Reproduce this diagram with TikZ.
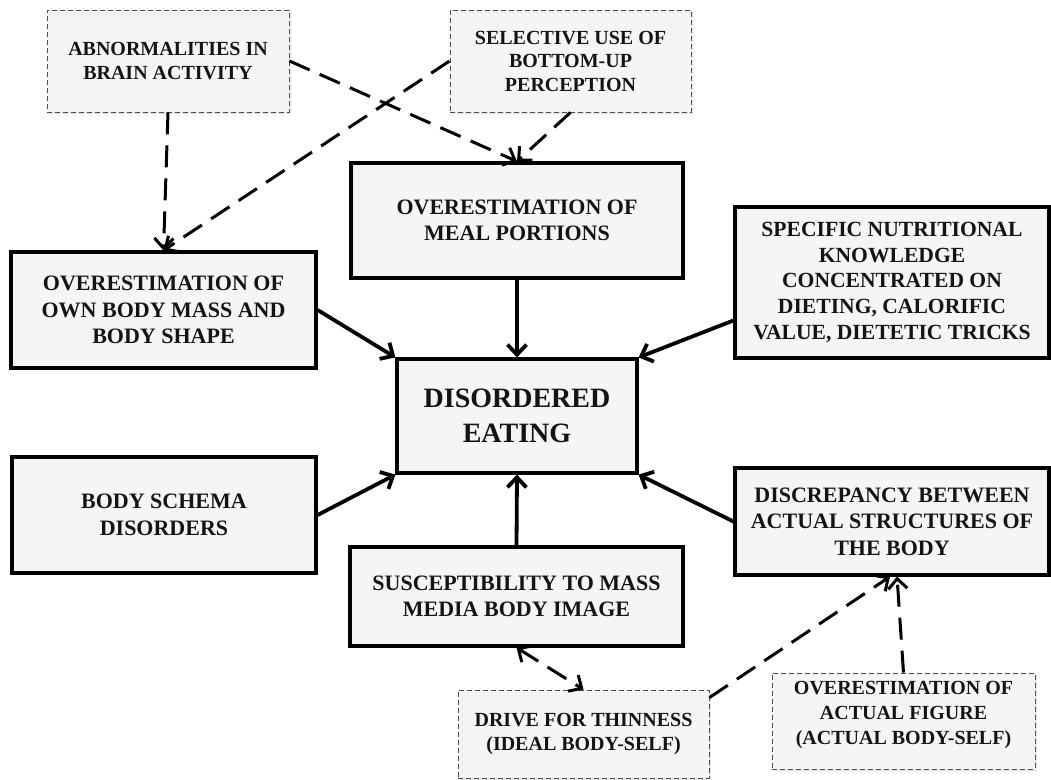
\documentclass[tikz,border=0pt]{standalone}
\usepackage{fontspec}
\setmainfont{Liberation Serif}
\usetikzlibrary{arrows.meta,shadows,calc}
\definecolor{boxfill}{HTML}{F5F5F5}
\definecolor{inktext}{HTML}{141414}
\begin{document}
\begin{tikzpicture}[x=1pt,y=-1pt,
  factor/.style={draw=black, line width=3.2pt, fill=boxfill, align=center,
    inner sep=0pt, text=inktext,
    font=\bfseries\fontsize{22}{26.5}\selectfont,
    drop shadow={shadow xshift=1.6pt,shadow yshift=-1.6pt,opacity=0.22}},
  aux/.style={draw=black!70, line width=0.9pt, dash pattern=on 5pt off 3pt,
    fill=boxfill, align=center, inner sep=0pt, text=inktext,
    font=\bfseries\fontsize{20}{23.5}\selectfont,
    drop shadow={shadow xshift=1.6pt,shadow yshift=-1.6pt,opacity=0.18}},
  barb/.tip={Straight Barb[length=10pt,width=19pt]},
  link/.style={line width=3.8pt, -barb},
  dlink/.style={line width=3pt, dash pattern=on 22pt off 11pt, -barb}
]
\useasboundingbox (0,0) rectangle (1051,779);

% dashed boxes: contributing perceptual mechanisms
\node[aux, minimum width=242, minimum height=102] (abn) at (168,61)
  {ABNORMALITIES IN\\BRAIN ACTIVITY};
\node[aux, minimum width=241, minimum height=102] (sel) at (570.5,61)
  {SELECTIVE USE OF\\BOTTOM-UP\\PERCEPTION};

% solid boxes: direct factors
\node[factor, minimum width=332, minimum height=115] (meal) at (517,220.5)
  {OVERESTIMATION OF\\MEAL PORTIONS};
\node[factor, minimum width=305, minimum height=116] (own) at (163.5,310)
  {OVERESTIMATION OF\\OWN BODY MASS AND\\BODY SHAPE};
\node[factor, minimum width=314, minimum height=151,
  font=\bfseries\fontsize{21.6}{25.7}\selectfont] (spec) at (892,282.5)
  {SPECIFIC NUTRITIONAL\\KNOWLEDGE\\CONCENTRATED ON\\DIETING, CALORIFIC\\VALUE, DIETETIC TRICKS};
\node[factor, minimum width=240, minimum height=114,
  font=\bfseries\fontsize{28}{35}\selectfont] (dis) at (517,416)
  {DISORDERED\\EATING};
\node[factor, minimum width=304, minimum height=116] (schema) at (164,515)
  {BODY SCHEMA\\DISORDERS};
\node[factor, minimum width=314, minimum height=107] (disc) at (892,521.5)
  {DISCREPANCY BETWEEN\\ACTUAL STRUCTURES OF\\THE BODY};
\node[factor, minimum width=333, minimum height=99] (susc) at (516.5,596.5)
  {SUSCEPTIBILITY TO MASS\\MEDIA BODY IMAGE};

% dashed boxes at the bottom
\node[aux, minimum width=251, minimum height=88] (drive) at (583.5,734)
  {DRIVE FOR THINNESS\\(IDEAL BODY-SELF)};
\node[aux, minimum width=263, minimum height=96, text depth=17pt,
  font=\bfseries\fontsize{20}{25}\selectfont] (act) at (903.5,721)
  {OVERESTIMATION OF\\ACTUAL FIGURE\\(ACTUAL BODY-SELF)};

% connector end points off the node anchors
\coordinate (specout) at ($(spec.west)+(0,38)$);
\coordinate (driveout) at ($(drive.north east)+(0,8)$);
\coordinate (discinA) at ($(disc.south)+(-2,0)$);
\coordinate (discinB) at ($(disc.south)+(5,0)$);

% dashed influences
\draw[dlink] (abn.south) -- (own.north);
\draw[dlink] (abn.east) -- (meal.north);
\draw[dlink] (sel.west) -- (own.north);
\draw[dlink] (sel.south) -- (meal.north);
\draw[dlink, barb-barb] (susc.south) -- (drive.north);
\draw[dlink] (driveout) -- (discinA);
\draw[dlink] (act.north) -- (discinB);

% solid influences on disordered eating
\draw[link] (meal.south) -- (dis.north);
\draw[link] (own.east) -- (dis.north west);
\draw[link] (specout) -- (dis.north east);
\draw[link] (schema.east) -- (dis.south west);
\draw[link] (susc.north) -- (dis.south);
\draw[link] (disc.west) -- (dis.south east);
\end{tikzpicture}
\end{document}
